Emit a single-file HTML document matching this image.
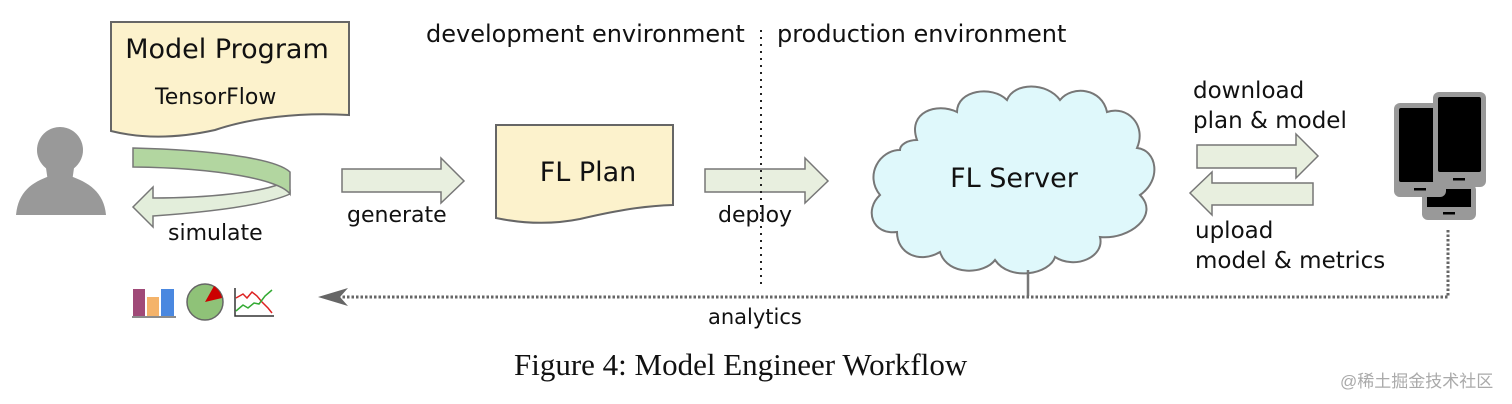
<!DOCTYPE html>
<html><head><meta charset="utf-8"><style>
html,body{margin:0;padding:0;background:#fff;}
svg{display:block;}
text{font-family:"DejaVu Sans","Liberation Sans",sans-serif;fill:#111;}
</style></head><body>
<svg width="1512" height="404" viewBox="0 0 1512 404" xmlns="http://www.w3.org/2000/svg">
<!-- Model Program doc -->
<path d="M111,22 L349,22 L349,115 C300,112 250,118 215,130 C170,140 135,137 111,131 Z" fill="#fcf2cc" stroke="#666" stroke-width="2"/>
<text x="227" y="58" font-size="27" text-anchor="middle">Model Program</text>
<text x="155" y="104" font-size="22">TensorFlow</text>
<!-- person -->
<circle cx="60" cy="150" r="23" fill="#999"/>
<path d="M16,215 L106,215 C104,192 88,182 70,176 L50,176 C32,182 18,192 16,215 Z" fill="#999"/>
<path d="M46,168 L74,168 L72,182 L48,182 Z" fill="#999"/>
<!-- simulate arrow -->
<path d="M153,198 C210,198 260,192 280,184 L290,190 L290,194 C265,205 210,212 153,216 L153,227 L133,207 L153,187 Z" fill="#e3eedb" stroke="#777" stroke-width="1.5"/>
<path d="M133,148 C210,150 275,158 290,172 L290,194 C280,180 220,168 133,167 Z" fill="#b2d6a0" stroke="#777" stroke-width="1.5"/>
<text x="168" y="240" font-size="22">simulate</text>
<!-- generate arrow -->
<path d="M342,169 L441,169 L441,158 L464,181 L441,203 L441,192 L342,192 Z" fill="#e8efdf" stroke="#777" stroke-width="1.5"/>
<text x="347" y="222" font-size="22">generate</text>
<!-- FL Plan -->
<path d="M496,125 L673,125 L673,205 C640,206 610,212 580,219 C550,225 520,223 496,218 Z" fill="#fcf2cc" stroke="#666" stroke-width="2"/>
<text x="588" y="181" font-size="27" text-anchor="middle">FL Plan</text>
<!-- deploy arrow -->
<path d="M705,169 L805,169 L805,158 L828,181 L805,203 L805,192 L705,192 Z" fill="#e8efdf" stroke="#777" stroke-width="1.5"/>
<text x="718" y="222" font-size="22">deploy</text>
<!-- divider -->
<line x1="761" y1="30" x2="761" y2="285" stroke="#222" stroke-width="2" stroke-dasharray="2,5"/>
<text x="426" y="42" font-size="24">development environment</text>
<text x="777" y="42" font-size="24">production environment</text>
<!-- cloud -->
<path d="M900,150 C880,150 864,175 880,195 C864,210 872,235 897,232 C897,254 920,264 940,252 C948,277 985,274 995,260 C1010,282 1050,274 1055,257 C1075,270 1105,257 1100,237 C1130,240 1160,215 1140,195 C1162,180 1157,150 1137,148 C1147,125 1127,105 1107,112 C1102,88 1072,85 1060,100 C1047,82 1014,82 1007,100 C992,85 957,90 957,112 C937,102 907,112 917,140 C907,140 900,145 900,150 Z" fill="#dff8fb" stroke="#777" stroke-width="2"/>
<text x="1014" y="187" font-size="27" text-anchor="middle">FL Server</text>
<line x1="1028" y1="270" x2="1028" y2="296" stroke="#777" stroke-width="2.5"/>
<!-- download / upload -->
<text x="1193" y="98" font-size="23">download</text>
<text x="1193" y="128" font-size="23">plan &amp; model</text>
<path d="M1197,145 L1296,145 L1296,134 L1318,156 L1296,178 L1296,168 L1197,168 Z" fill="#e8efdf" stroke="#777" stroke-width="1.5"/>
<path d="M1313,183 L1212,183 L1212,172 L1190,193 L1212,215 L1212,205 L1313,205 Z" fill="#e8efdf" stroke="#777" stroke-width="1.5"/>
<text x="1195" y="238" font-size="23">upload</text>
<text x="1195" y="268" font-size="23">model &amp; metrics</text>
<!-- phones -->
<rect x="1422" y="184" width="54" height="36" rx="6" fill="#999"/>
<rect x="1427" y="189" width="44" height="18" fill="#000"/>
<rect x="1443" y="212" width="12" height="2.5" fill="#000"/>
<rect x="1394" y="103" width="52" height="94" rx="6" fill="#999"/>
<rect x="1399" y="108" width="42" height="74" rx="2" fill="#000"/>
<rect x="1414" y="188" width="12" height="2.5" fill="#000"/>
<rect x="1433" y="92" width="53" height="95" rx="6" fill="#999"/>
<rect x="1438" y="97" width="43" height="75" rx="2" fill="#000"/>
<rect x="1453" y="178" width="12" height="2.5" fill="#000"/>
<!-- analytics dotted -->
<path d="M1448,230 L1448,297 L340,297" fill="none" stroke="#666" stroke-width="3" stroke-dasharray="2.5,2"/>
<path d="M318,297 L348,288 L340,297 L348,306 Z" fill="#666"/>
<text x="708" y="324" font-size="21">analytics</text>
<!-- icons -->
<rect x="133" y="289" width="12" height="27" fill="#a04a78"/>
<rect x="147" y="297" width="12" height="19" fill="#f4b36a"/>
<rect x="161" y="289" width="13" height="27" fill="#4a88e0"/>
<line x1="132" y1="317" x2="176" y2="317" stroke="#666" stroke-width="1.5"/>
<circle cx="205" cy="302" r="18" fill="#8fc278" stroke="#666" stroke-width="1.5"/>
<path d="M205,302 L214,286 C218,289 221,293 222,298 Z" fill="#c00"/>
<polyline points="235,288 235,316 274,316" fill="none" stroke="#333" stroke-width="1.5"/>
<polyline points="236,298 243,294 247,298 252,292 257,296 262,302 268,308 272,313" fill="none" stroke="#d22" stroke-width="1.5"/>
<polyline points="236,311 243,305 248,308 254,303 259,304 265,296 272,290" fill="none" stroke="#3a3" stroke-width="1.5"/>
<!-- caption -->
<text x="514" y="375" font-size="31" style="font-family:'Liberation Serif',serif">Figure 4: Model Engineer Workflow</text>
<text x="1340" y="387" font-size="17" style="font-family:'Liberation Sans','Noto Sans CJK SC',sans-serif;fill:#aaa">@稀土掘金技术社区</text>
</svg>
</body></html>
